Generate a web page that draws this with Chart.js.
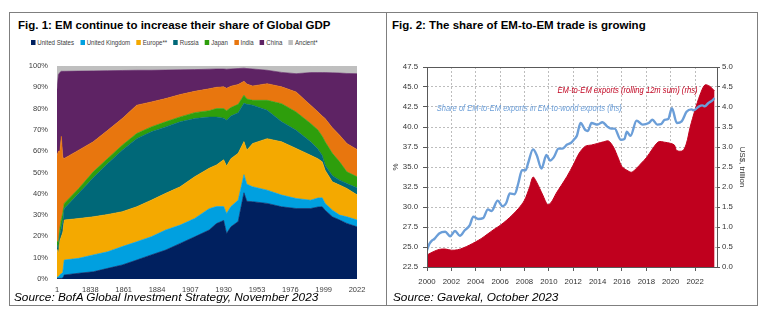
<!DOCTYPE html>
<html>
<head>
<meta charset="utf-8">
<script src="https://cdn.jsdelivr.net/npm/chart.js@4.4.0/dist/chart.umd.min.js"></script>
<style>
  body { margin: 0; width: 770px; height: 324px; position: relative; overflow: hidden; background: #fff;
         font-family: Arial, "Liberation Sans", sans-serif; }
  .frame { position: absolute; left: 9px; top: 12px; width: 747px; height: 292px; border: 1px solid #7f7f7f; }
  .divider { position: absolute; left: 386px; top: 12px; width: 1px; height: 293px; background: #7f7f7f; }
  .title { position: absolute; top: 19px; font-size: 11.5px; line-height: 13px; font-weight: bold; color: #000; white-space: nowrap; }
  .source { position: absolute; top: 290px; font-size: 11.8px; line-height: 14px; font-style: italic; color: #000; white-space: nowrap; }
  #legend { position: absolute; left: 31px; top: 38px; display: flex; gap: 7px; font-size: 6.8px; line-height: 9px; color: #404040;
            white-space: nowrap; transform: scaleX(0.9); transform-origin: left center; }
  #legend span.box { display: inline-block; width: 5px; height: 5px; margin-right: 2px; vertical-align: 0px; }
  canvas { position: absolute; }
</style>
</head>
<body>
<div class="frame"></div>
<div class="divider"></div>
<div class="title" style="left:18px">Fig. 1: EM continue to increase their share of Global GDP</div>
<div class="title" style="left:392px">Fig. 2: The share of EM-to-EM trade is growing</div>
<div id="legend"></div>
<canvas id="gdp" width="370" height="250" style="left:10px;top:50px"></canvas>
<canvas id="trade" width="362" height="237" style="left:388px;top:55px"></canvas>
<div class="source" style="left:14px">Source: BofA Global Investment Strategy, November 2023</div>
<div class="source" style="left:393px">Source: Gavekal, October 2023</div>

<script>
// ---- Fig. 1 data: share of world GDP (%) ----
const gdpYears = [1, 1000, 1500, 1600, 1700, 1820, 1830, 1840, 1850, 1860, 1870, 1880, 1890, 1900, 1910,
                  1920, 1925, 1930, 1932, 1935, 1940, 1944, 1946, 1950, 1960, 1970, 1980, 1990, 1995, 1998,
                  2000, 2005, 2010, 2015, 2022];
const usShare = [0.3, 0.3, 0.3, 0.3, 0.5, 1.9, 2.7, 3.4, 5.0, 6.6, 8.9, 11.3, 13.6, 16.7, 19.8,
                 23.0, 26.0, 27.5, 21.4, 24.5, 27.0, 40.5, 36.5, 36.3, 35.5, 33.9, 33.1, 33.1, 33.8, 33.9,
                 32.3, 29.2, 27.7, 26.1, 24.5];
const ukShare = [0.5, 0.7, 1.7, 2.2, 2.5, 7.0, 7.0, 7.9, 7.8, 8.6, 8.6, 8.5, 9.4, 8.6, 8.6,
                 10.0, 8.0, 6.5, 9.4, 9.5, 10.0, 8.5, 8.0, 7.0, 6.2, 5.5, 4.7, 3.9, 4.2, 4.2,
                 3.2, 3.1, 2.3, 3.1, 3.2];
const europeShare = [13.2, 11.0, 16.0, 17.5, 19.0, 18.8, 18.7, 17.9, 17.5, 16.4, 16.4, 17.2, 17.2, 18.0, 19.6,
                     19.0, 19.5, 22.0, 22.2, 22.5, 22.0, 15.5, 16.0, 20.3, 24.2, 25.0, 23.5, 21.1, 18.5, 16.9,
                     15.6, 13.3, 14.1, 13.3, 11.8];
const russiaShare = [2.0, 2.0, 3.0, 4.0, 5.0, 5.4, 11.8, 18.3, 23.9, 28.9, 32.0, 32.1, 31.2, 30.5, 27.3,
                     24.0, 22.5, 19.5, 21.5, 20.0, 19.0, 18.0, 21.5, 18.0, 13.3, 9.4, 8.5, 6.3, 4.5, 3.0,
                     2.3, 2.9, 2.3, 2.3, 3.3];
const japanShare = [2.0, 3.0, 3.0, 4.0, 4.0, 2.4, 2.3, 2.8, 2.4, 2.3, 2.4, 2.3, 2.4, 2.3, 2.8,
                    3.0, 4.0, 4.5, 4.5, 4.0, 4.0, 3.8, 2.5, 2.3, 4.7, 8.5, 8.6, 8.6, 9.0, 9.0,
                    11.0, 10.5, 8.6, 5.5, 5.2];
const indiaShare = [40.0, 43.0, 36.0, 39.0, 26.0, 21.1, 18.0, 14.1, 13.2, 12.5, 13.3, 11.7, 10.9, 10.5, 10.0,
                    10.3, 10.0, 10.2, 10.5, 10.0, 9.3, 6.5, 7.0, 6.7, 7.8, 7.9, 9.4, 8.6, 8.5, 9.5,
                    10.9, 12.0, 12.5, 13.3, 12.8];
const chinaShare = [31.0, 36.0, 37.0, 30.5, 40.5, 40.9, 37.1, 33.3, 28.0, 22.6, 16.4, 14.9, 13.4, 11.6, 10.2,
                    9.2, 8.6, 8.4, 9.0, 8.1, 7.5, 6.2, 7.3, 8.0, 6.3, 6.8, 8.6, 15.3, 18.4, 20.4,
                    21.6, 25.8, 29.2, 32.9, 35.6];
const ancientShare = [11.0, 4.0, 3.0, 2.5, 2.5, 2.5, 2.4, 2.3, 2.2, 2.1, 2.0, 2.0, 1.9, 1.8, 1.7,
                      1.5, 1.4, 1.4, 1.5, 1.4, 1.2, 1.0, 1.2, 1.4, 2.0, 3.0, 3.6, 3.1, 3.1, 3.1,
                      3.1, 3.2, 3.3, 3.5, 3.6];
const gdpNames = ['United States', 'United Kingdom', 'Europe**', 'Russia', 'Japan', 'India', 'China', 'Ancient*'];
const gdpTickLabels = ['1', '1838', '1861', '1884', '1907', '1930', '1953', '1976', '1999', '2022'];
// the x axis is categorical: 1, 1000, 1500, 1600, 1700, then every year from 1820
const earlyYears = [1, 1000, 1500, 1600, 1700];

// ---- Fig. 2 data ----
const shareYears = [2000.0, 2000.2, 2000.4, 2000.6, 2001.0, 2001.5, 2001.9, 2002.3, 2002.7, 2003.1, 2003.5, 2003.8,
                    2004.2, 2004.6, 2005.0, 2005.3, 2005.8, 2006.2, 2006.5, 2006.8, 2007.2, 2007.5, 2007.8,
                    2008.1, 2008.3, 2008.7, 2009.0, 2009.4, 2009.8, 2010.1, 2010.4, 2010.8, 2011.1, 2011.5,
                    2011.8, 2012.1, 2012.3, 2012.6, 2013.0, 2013.2, 2013.5, 2014.0, 2014.4, 2014.8, 2015.1,
                    2015.4, 2015.9, 2016.2, 2016.4, 2016.7, 2017.2, 2017.7, 2018.2, 2018.5, 2018.9, 2019.2,
                    2019.5, 2019.8, 2020.1, 2020.5, 2020.9, 2021.3, 2021.7, 2021.9, 2022.3, 2022.6, 2022.8,
                    2023.1, 2023.4, 2023.6];
const shareValues = [24.6, 25.4, 25.8, 26.0, 26.7, 26.9, 26.35, 27.0, 26.4, 27.1, 27.7, 28.8,
                     28.5, 28.6, 29.7, 29.5, 30.8, 30.1, 30.5, 31.7, 31.6, 33.0, 34.6,
                     34.6, 35.5, 37.2, 36.5, 34.8, 36.5, 35.8, 36.2, 37.3, 37.3, 37.8,
                     38.0, 38.5, 38.9, 40.5, 39.6, 39.5, 40.5, 40.3, 40.6, 40.05, 39.8,
                     39.8, 38.4, 38.5, 39.4, 38.9, 40.8, 40.3, 40.5, 40.9, 40.3, 40.35,
                     40.9, 41.0, 42.35, 40.5, 40.7, 41.9, 42.2, 42.1, 42.55, 42.7, 42.6,
                     43.0, 43.3, 43.6];
const exportYears = [2000.0, 2000.5, 2001.0, 2001.5, 2002.0, 2002.5, 2003.0, 2003.5, 2004.0, 2004.5, 2005.0,
                     2005.5, 2006.0, 2006.5, 2007.0, 2007.5, 2008.0, 2008.4, 2008.7, 2009.0, 2009.5, 2009.9,
                     2010.2, 2010.6, 2011.0, 2011.5, 2012.0, 2012.5, 2013.0, 2013.5, 2014.0, 2014.5, 2014.9,
                     2015.3, 2015.7, 2016.0, 2016.4, 2016.8, 2017.2, 2017.6, 2018.0, 2018.5, 2019.0, 2019.5,
                     2020.0, 2020.3, 2020.5, 2021.0, 2021.3, 2021.6, 2022.0, 2022.4, 2022.8, 2023.2, 2023.6];
const exportValues = [0.30, 0.38, 0.44, 0.45, 0.42, 0.43, 0.48, 0.55, 0.63, 0.72, 0.83,
                      0.94, 1.04, 1.16, 1.30, 1.46, 1.67, 1.98, 2.25, 2.12, 1.80, 1.56,
                      1.62, 1.84, 2.03, 2.27, 2.55, 2.85, 3.02, 3.05, 3.09, 3.13, 3.15,
                      3.00, 2.72, 2.51, 2.42, 2.37, 2.47, 2.60, 2.73, 2.95, 3.13, 3.12,
                      3.09, 3.05, 2.91, 2.91, 3.10, 3.50, 3.93, 4.30, 4.55, 4.52, 4.40];
const tradeTickLabels = [2000, 2002, 2004, 2006, 2008, 2010, 2012, 2014, 2016, 2018, 2020, 2022];
const shareNote = 'Share of EM-to-EM exports in EM-to-world exports (lhs)';
const exportNote = 'EM-to-EM exports (rolling 12m sum) (rhs)';

const gdpColors = ['#00205f', '#00a0e0', '#f4a900', '#006878', '#2e9e0c', '#e8760e', '#5e2364', '#bfbfbf'];
const RED = '#c0001e';
const BLUE = '#6b9ed8';

Chart.defaults.font.family = 'Arial, "Liberation Sans", sans-serif';

function gdpPos(year) {
    const k = earlyYears.indexOf(year);
    return k >= 0 ? k : year - 1815;
}

// legend for fig 1
const legend = document.getElementById('legend');
gdpNames.forEach((name, k) => {
    const item = document.createElement('div');
    item.innerHTML = '<span class="box" style="background:' + gdpColors[k] + '"></span>' + name;
    legend.appendChild(item);
});

const gdpSeries = [usShare, ukShare, europeShare, russiaShare, japanShare, indiaShare, chinaShare, ancientShare];

new Chart(document.getElementById('gdp'), {
    type: 'line',
    data: {
        datasets: gdpSeries.map((vals, k) => ({
            label: gdpNames[k],
            data: vals.map((v, j) => ({ x: gdpPos(gdpYears[j]), y: v })),
            backgroundColor: gdpColors[k],
            borderColor: gdpColors[k],
            borderWidth: 0.6,
            pointRadius: 0,
            tension: 0,
            fill: k === 0 ? 'origin' : '-1'
        }))
    },
    options: {
        responsive: false,
        animation: false,
        layout: { padding: { top: 16, right: 23, bottom: 0, left: 0 } },
        plugins: { legend: { display: false }, tooltip: { enabled: false } },
        scales: {
            x: {
                type: 'linear', min: 0, max: gdpPos(2022),
                grid: { display: false, drawTicks: false }, border: { display: false },
                afterBuildTicks: (scale) => { scale.ticks = gdpTickLabels.map(t => ({ value: gdpPos(Number(t)) })); },
                afterFit: (scale) => { scale.height = 21; },
                ticks: {
                    padding: 6, color: '#404040', font: { size: 7.5 }, maxRotation: 0, autoSkip: false,
                    callback: (v) => gdpTickLabels[gdpTickLabels.map(t => gdpPos(Number(t))).indexOf(v)]
                }
            },
            y: {
                stacked: true, min: 0, max: 100,
                grid: { display: false, drawTicks: false }, border: { display: false },
                afterFit: (scale) => { scale.width = 47; },
                ticks: { stepSize: 10, padding: 9, color: '#404040', font: { size: 7.5 }, callback: (v) => v + '%' }
            }
        }
    }
});

// box round the plot and the two notes
const boxPlugin = {
    id: 'box',
    afterDraw(chart) {
        const { ctx, chartArea: a } = chart;
        ctx.save();
        ctx.strokeStyle = '#595959';
        ctx.lineWidth = 1;
        ctx.strokeRect(Math.round(a.left) + 0.5, Math.round(a.top) + 0.5, Math.round(a.right - a.left), Math.round(a.bottom - a.top));
        ctx.restore();
    }
};
const notePlugin = {
    id: 'notes',
    afterDatasetsDraw(chart) {
        const { ctx, scales } = chart;
        ctx.save();
        ctx.textBaseline = 'middle';
        ctx.font = 'italic 9px Arial, "Liberation Sans", sans-serif';
        ctx.fillStyle = RED;
        ctx.textAlign = 'right';
        ctx.fillText(exportNote, scales.x.getPixelForValue(2022.2), scales.y2.getPixelForValue(4.41), 140);
        ctx.fillStyle = BLUE;
        ctx.textAlign = 'left';
        ctx.fillText(shareNote, scales.x.getPixelForValue(2000.8), scales.y.getPixelForValue(42.27), 185);
        ctx.restore();
    }
};

const dashedGrid = { color: '#bdbdbd', borderDash: [2, 2], tickColor: '#595959', tickLength: 4, tickBorderDash: [] };

new Chart(document.getElementById('trade'), {
    type: 'line',
    data: {
        datasets: [
            {
                label: shareNote,
                data: shareYears.map((x, i) => ({ x, y: shareValues[i] })),
                yAxisID: 'y',
                borderColor: BLUE,
                borderWidth: 2.4,
                pointRadius: 0,
                fill: false,
                cubicInterpolationMode: 'monotone',
                order: 0
            },
            {
                label: exportNote,
                data: exportYears.map((x, i) => ({ x, y: exportValues[i] })),
                yAxisID: 'y2',
                backgroundColor: RED,
                borderColor: RED,
                borderWidth: 1,
                pointRadius: 0,
                fill: 'origin',
                tension: 0.3,
                order: 1
            }
        ]
    },
    options: {
        responsive: false,
        animation: false,
        layout: { padding: { top: 12, right: 0, bottom: 0, left: 0 } },
        plugins: { legend: { display: false }, tooltip: { enabled: false } },
        scales: {
            x: {
                type: 'linear', min: 2000, max: 2023.8,
                afterBuildTicks: (scale) => { scale.ticks = tradeTickLabels.map(v => ({ value: v })); },
                afterFit: (scale) => { scale.height = 25; },
                grid: dashedGrid,
                border: { display: false, dash: [2, 2] },
                ticks: { padding: 6, color: '#333', font: { size: 7.8 }, maxRotation: 0, autoSkip: false, callback: (v) => String(v) }
            },
            y: {
                position: 'left', min: 22.5, max: 47.5,
                afterFit: (scale) => { scale.width = 39; },
                grid: dashedGrid,
                border: { display: false, dash: [2, 2] },
                ticks: { stepSize: 2.5, padding: 5, color: '#333', font: { size: 7.8 }, callback: (v) => v.toFixed(1) },
                title: { display: true, text: '%', color: '#333', font: { size: 8 }, padding: { top: 3, bottom: 0 } }
            },
            y2: {
                position: 'right', min: 0, max: 5,
                afterFit: (scale) => { scale.width = 33; },
                grid: { drawOnChartArea: false, tickColor: '#595959', tickLength: 3 },
                border: { display: false },
                ticks: { stepSize: 0.5, padding: 2, color: '#333', font: { size: 7.8 }, callback: (v) => v.toFixed(1) },
                title: { display: true, text: 'US$, trillion', color: '#333', font: { size: 8 }, padding: { top: 3, bottom: 0 } }
            }
        }
    },
    plugins: [boxPlugin, notePlugin]
});
</script>
</body>
</html>
